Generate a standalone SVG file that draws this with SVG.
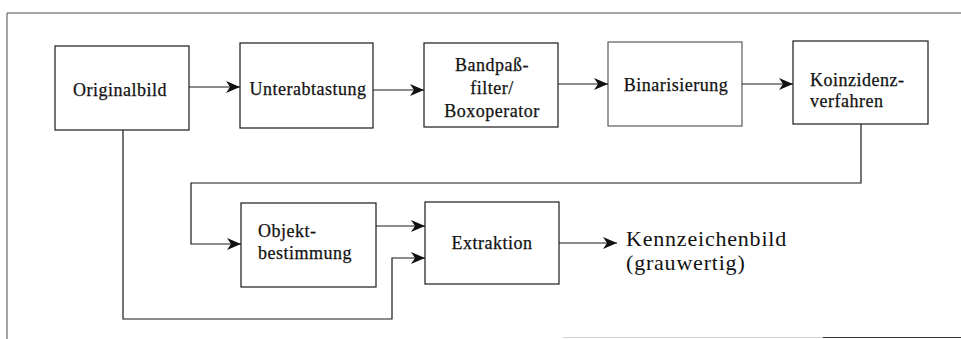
<svg xmlns="http://www.w3.org/2000/svg" width="961" height="339" viewBox="0 0 961 339">
  <defs>
    <marker id="arrow" viewBox="0 0 14 14" refX="14" refY="7" markerWidth="14" markerHeight="14" markerUnits="userSpaceOnUse" orient="auto">
      <path d="M0,1 L14,7 L0,13 L4,7 Z" fill="#111"/>
    </marker>
  </defs>
  <style>
    .box { fill: #fff; stroke: #1a1a1a; stroke-width: 1.2; }
    .box.light { stroke: #5a5a5a; }
    .lbl { font-family: "Liberation Serif", "Times New Roman", serif; font-size: 18px; fill: #111; stroke: #111; stroke-width: 0.25; letter-spacing: 0.5px; }
    .mid { text-anchor: middle; }
    .out { font-family: "Liberation Serif", "Times New Roman", serif; font-size: 22px; fill: #111; letter-spacing: 0.8px; }
    .wire { fill: none; stroke: #1a1a1a; stroke-width: 1.2; }
    .frame { fill: none; stroke: #4a4a4a; stroke-width: 1; }
  </style>

  <rect width="961" height="339" fill="#fff"/>

  <!-- outer frame -->
  <g id="frame">
    <path class="frame" d="M7,13 H961 M7,13 V339"/>
    <path d="M563,337.5 H823" stroke="#cfcfcf" stroke-width="1"/>
    <path d="M823,337.5 H961" stroke="#333" stroke-width="1.2"/>
  </g>

  <!-- processing steps -->
  <g id="originalbild">
    <rect class="box" x="55" y="46" width="134" height="84"/>
    <text class="lbl mid" x="120" y="96">Originalbild</text>
  </g>
  <g id="unterabtastung">
    <rect class="box" x="240" y="43" width="133" height="85"/>
    <text class="lbl mid" x="308" y="95">Unterabtastung</text>
  </g>
  <g id="bandpass">
    <rect class="box" x="424" y="43" width="134" height="84"/>
    <text class="lbl mid" x="492" y="71">Bandpaß-</text>
    <text class="lbl mid" x="492" y="94">filter/</text>
    <text class="lbl mid" x="492" y="117">Boxoperator</text>
  </g>
  <g id="binarisierung">
    <rect class="box light" x="608" y="42" width="134" height="84"/>
    <text class="lbl mid" x="676" y="91">Binarisierung</text>
  </g>
  <g id="koinzidenz">
    <rect class="box" x="793" y="41" width="135" height="83"/>
    <text class="lbl" x="810" y="86">Koinzidenz-</text>
    <text class="lbl" x="810" y="107">verfahren</text>
  </g>
  <g id="objektbestimmung">
    <rect class="box" x="241" y="203" width="135" height="84"/>
    <text class="lbl" x="258" y="237">Objekt-</text>
    <text class="lbl" x="258" y="259">bestimmung</text>
  </g>
  <g id="extraktion">
    <rect class="box" x="425" y="202" width="134" height="82"/>
    <text class="lbl mid" x="492" y="249" stroke-width="0.5">Extraktion</text>
  </g>
  <g id="kennzeichenbild">
    <text class="out" x="626" y="246">Kennzeichenbild</text>
    <text class="out" x="626" y="270">(grauwertig)</text>
  </g>

  <!-- connectors -->
  <g id="connectors">
    <path class="wire" d="M189,87 H240" marker-end="url(#arrow)"/>
    <path class="wire" d="M373,90 H424" marker-end="url(#arrow)"/>
    <path class="wire" d="M558,84 H608" marker-end="url(#arrow)"/>
    <path class="wire" d="M742,84 H793" marker-end="url(#arrow)"/>
    <path class="wire" d="M861,124 V183 H191 V244 H241" marker-end="url(#arrow)"/>
    <path class="wire" d="M376,226 H425" marker-end="url(#arrow)"/>
    <path class="wire" d="M123,130 V319 H392 V258 H425" marker-end="url(#arrow)"/>
    <path class="wire" d="M559,243 H617" marker-end="url(#arrow)"/>
  </g>
</svg>
